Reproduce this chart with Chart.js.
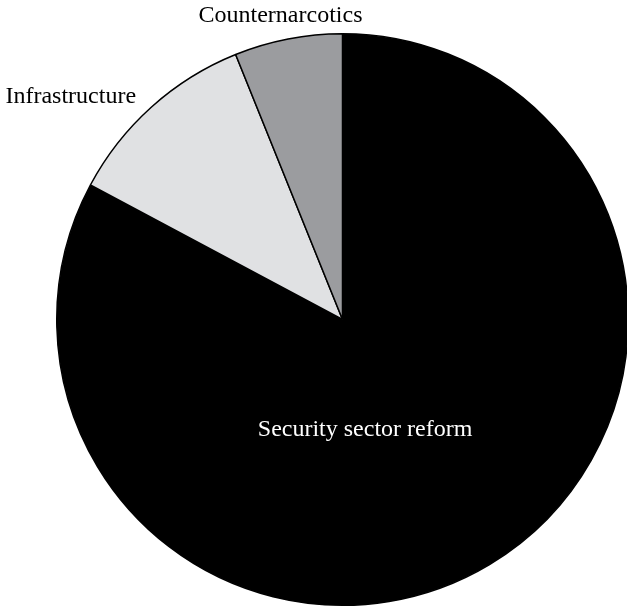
<!DOCTYPE html>
<html>
<head>
<meta charset="utf-8">
<script src="https://cdn.jsdelivr.net/npm/chart.js@4/dist/chart.umd.min.js"></script>
<style>
  html, body { margin: 0; padding: 0; background: #ffffff; overflow: hidden; }
  #wrap { width: 640px; height: 607px; }
</style>
</head>
<body>
<div id="wrap"><canvas id="c" width="640" height="607"></canvas></div>
<script>
const categories = ["Security sector reform", "Infrastructure", "Counternarcotics"];
const shares = [82.8, 11.1, 6.1];

const sliceColors = ["#000000", "#e0e1e3", "#9b9c9f"];
const labelColors = ["#ffffff", "#000000", "#000000"];
// label anchor offsets (baseline centre), in units of the pie radius, relative to the centre
const labelOffsets = [
  { dx: 0.079, dy: 0.407 },
  { dx: -0.951, dy: -0.757 },
  { dx: -0.217, dy: -1.040 }
];

const labelPlugin = {
  id: 'sliceLabels',
  afterDatasetsDraw(chart) {
    const ctx = chart.ctx;
    const meta = chart.getDatasetMeta(0);
    ctx.save();
    ctx.font = '24px "Liberation Serif", "Times New Roman", serif';
    ctx.textAlign = 'center';
    ctx.textBaseline = 'alphabetic';
    meta.data.forEach((arc, i) => {
      const r = arc.outerRadius;
      const x = arc.x + labelOffsets[i].dx * r;
      const y = arc.y + labelOffsets[i].dy * r;
      ctx.fillStyle = labelColors[i];
      ctx.fillText(chart.data.labels[i], x, y);
    });
    ctx.restore();
  }
};

new Chart(document.getElementById('c'), {
  type: 'pie',
  data: {
    labels: categories,
    datasets: [{
      data: shares,
      backgroundColor: sliceColors,
      borderColor: '#000000',
      borderWidth: 1.5
    }]
  },
  options: {
    responsive: false,
    animation: false,
    devicePixelRatio: 1,
    layout: { padding: { left: 56, right: 11, top: 33, bottom: 1 } },
    plugins: {
      legend: { display: false },
      tooltip: { enabled: false }
    }
  },
  plugins: [labelPlugin]
});
</script>
</body>
</html>
